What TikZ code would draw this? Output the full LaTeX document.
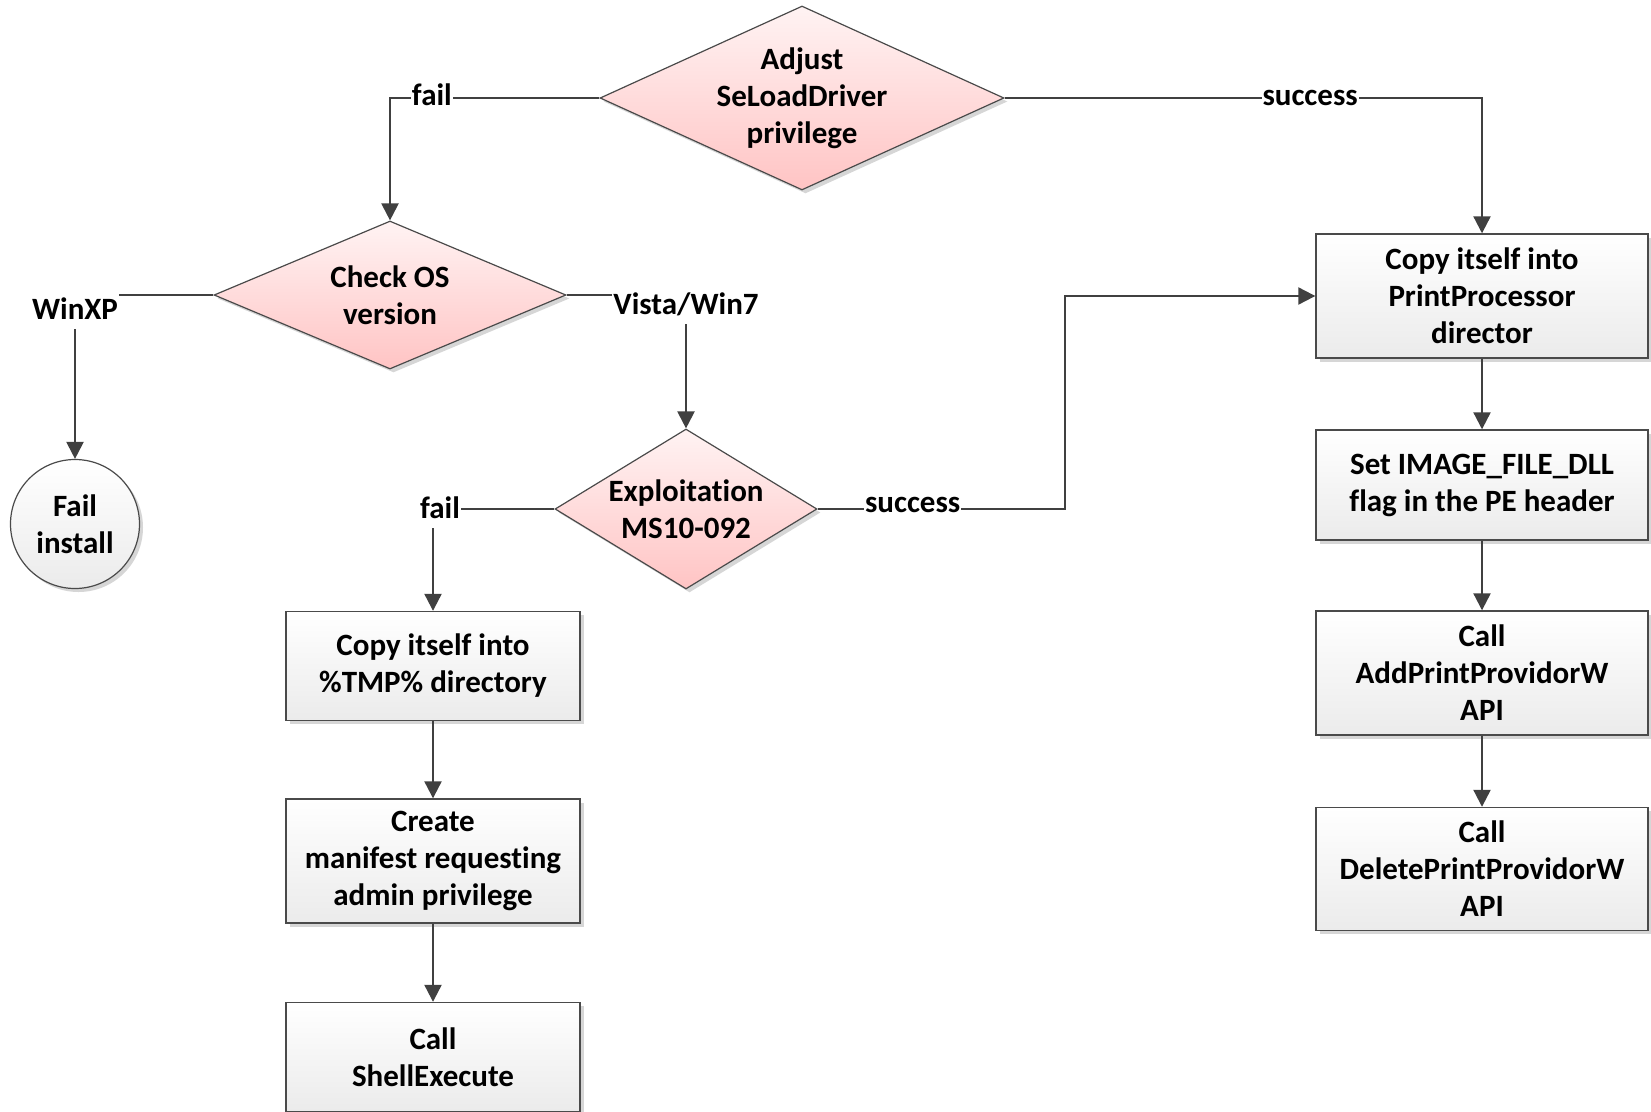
\documentclass[tikz,border=0pt]{standalone}
\usepackage{fontspec}
\setmainfont{Carlito}[Ligatures={NoCommon}]
\usetikzlibrary{shapes.geometric, arrows.meta, shadows}

\definecolor{linegray}{HTML}{404040}
\definecolor{edgegray}{HTML}{4A4A4A}
\definecolor{pinktop}{HTML}{FFF3F3}
\definecolor{pinkbot}{HTML}{FFC4C4}
\definecolor{boxbot}{HTML}{EBEBEB}
\definecolor{shadowgray}{HTML}{D6D6D6}

\begin{document}
\begin{tikzpicture}[x=1pt, y=-1pt,
  font=\fontsize{31}{37}\selectfont\bfseries,
  conn/.style={draw=linegray, line width=2.2pt, -{Triangle[length=17pt,width=17pt]}},
  shadowed/.style={general shadow={fill=shadowgray, shadow xshift=3.5pt, shadow yshift=-3.5pt}},
  stepbox/.style={rectangle, draw=edgegray, line width=1.4pt, top color=white,
    bottom color=boxbot, align=center, inner sep=0pt, shadowed},
  leftbox/.style={stepbox, minimum width=294pt},
  rightbox/.style={stepbox, minimum width=332pt},
  decision/.style={diamond, draw=edgegray, line width=1.2pt, top color=pinktop,
    bottom color=pinkbot, inner sep=0pt, shadowed},
  terminal/.style={circle, draw=edgegray, line width=1.2pt, top color=white,
    bottom color=boxbot, align=center, inner sep=0pt, shadowed},
  lbl/.style={fill=white, inner xsep=1pt, inner ysep=2pt, text height=23pt, text depth=8pt}
]
\useasboundingbox (0,0) rectangle (1651,1111);
\clip (0,0) rectangle (1651,1111);
\fill[white] (0,0) rectangle (1651,1111);

% decisions
\node[decision, minimum width=404pt, minimum height=184pt,
  label={[align=center]center:Adjust\\SeLoadDriver\\privilege}] (adj) at (802,98) {};
\node[decision, minimum width=352pt, minimum height=148pt,
  label={[align=center]center:Check OS\\version}] (chk) at (390,295) {};
\node[decision, minimum width=262pt, minimum height=160pt,
  label={[align=center]center:Exploitation\\MS10-092}] (exp) at (686,509) {};

% terminal
\node[terminal, minimum size=129pt] (fin) at (75,524) {Fail\\install};

% left column
\node[leftbox, minimum height=109pt] (tmp) at (433,666) {Copy itself into\\\%TMP\% directory};
\node[leftbox, minimum height=124pt] (man) at (433,861) {Create\\manifest requesting\\admin privilege};
\node[leftbox, minimum height=109pt] (shl) at (433,1057) {Call\\ShellExecute};

% right column
\node[rightbox, minimum height=124pt] (ppd) at (1482,296) {Copy itself into\\PrintProcessor\\director};
\node[rightbox, minimum height=110pt] (dll) at (1482,485) {Set IMAGE\_FILE\_DLL\\flag in the PE header};
\node[rightbox, minimum height=124pt] (add) at (1482,673) {Call\\AddPrintProvidorW\\API};
\node[rightbox, minimum height=123pt] (del) at (1482,869) {Call\\DeletePrintProvidorW\\API};

% connectors
\draw[conn] (adj.west) -| node[lbl, pos=0.4] {fail} (chk.north);
\draw[conn] (adj.east) -| node[lbl, pos=0.32] {success} (ppd.north);
\draw[conn] (chk.west) -| node[lbl, yshift=-16.5pt] {WinXP} (fin.north);
\draw[conn] (chk.east) -| node[lbl, yshift=-11.5pt] {Vista/Win7} (exp.north);
\draw[conn] (exp.west) -| node[lbl, xshift=7pt, yshift=-1.5pt] {fail} (tmp.north);
\draw[conn] (exp.east) -- node[lbl, pos=0.385, yshift=4.5pt] {success} ++(247,0) |- (ppd.west);

\draw[conn] (tmp.south) -- (man.north);
\draw[conn] (man.south) -- (shl.north);
\draw[conn] (ppd.south) -- (dll.north);
\draw[conn] (dll.south) -- (add.north);
\draw[conn] (add.south) -- (del.north);
\end{tikzpicture}
\end{document}
